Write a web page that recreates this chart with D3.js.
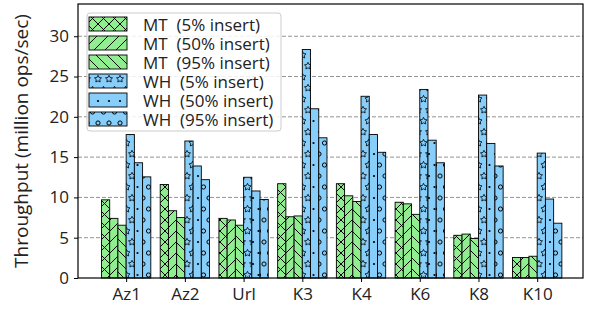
<!DOCTYPE html>
<html>
<head>
<meta charset="utf-8">
<script src="https://cdn.jsdelivr.net/npm/d3@7"></script>
<style>
  html, body { margin: 0; padding: 0; background: #fff; }
  svg { display: block; font-family: "Open Sans", sans-serif; }
</style>
</head>
<body>
<div class="main__area"></div>
<script>
const categories=["Az1", "Az2", "Url", "K3", "K4", "K6", "K8", "K10"];
const mt5 =[9.7, 11.6, 7.4, 11.7, 11.7, 9.4, 5.3, 2.55];
const mt50=[7.4, 8.35, 7.2, 7.6, 10.2, 9.2, 5.45, 2.55];
const mt95=[6.55, 7.5, 6.55, 7.7, 9.5, 7.9, 4.9, 2.7];
const wh5 =[17.8, 17.0, 12.5, 28.35, 22.55, 23.4, 22.7, 15.5];
const wh50=[14.3, 13.9, 10.8, 21.0, 17.8, 17.1, 16.7, 9.8];
const wh95=[12.55, 12.2, 9.75, 17.4, 15.6, 14.3, 13.9, 6.8];
const seriesNames=["MT  (5% insert)", "MT  (50% insert)", "MT  (95% insert)",
                   "WH  (5% insert)", "WH  (50% insert)", "WH  (95% insert)"];
const yTicks=[0, 5, 10, 15, 20, 25, 30];

const allSeries=[mt5, mt50, mt95, wh5, wh50, wh95];
const green="#90ee90";
const blue="#87cefa";
const hatchKinds=["x", "/", "\\", "*", ".", "o"];
const fills=[green, green, green, blue, blue, blue];

const width=589;
const height=312;
const plotL=78, plotR=583, plotT=4, plotB=278;
const barW=0.14;

const svgTag=d3.select(".main__area").append("svg")
    .attr("width", width)
    .attr("height", height);

const x=d3.scaleLinear().domain([-0.82, 7.78]).range([plotL, plotR]);
const y=d3.scaleLinear().domain([0, 34]).range([plotB, plotT]);

// hatch patterns
const defs=svgTag.append("defs");
const P=11;
function starPath(cx, cy, r) {
    let d="";
    for (let i=0; i<10; i++) {
        const rr=i%2===0 ? r : r*0.5;
        const a=-Math.PI/2 + i*Math.PI/5;
        d+=(i===0 ? "M" : "L")+(cx+rr*Math.cos(a)).toFixed(2)+","+(cy+rr*Math.sin(a)).toFixed(2);
    }
    return d+"Z";
}
hatchKinds.forEach((kind, key)=>{
    const isShape=(kind==="*" || kind==="." || kind==="o");
    const pat=defs.append("pattern")
        .attr("id", `hatch${key}`)
        .attr("patternUnits", "userSpaceOnUse")
        .attr("width", P).attr("height", isShape ? P*2 : P);
    pat.append("rect").attr("width", P).attr("height", isShape ? P*2 : P).attr("fill", fills[key]);
    const g=pat.append("g").attr("stroke", "#000").attr("stroke-width", 1).attr("fill", "none");
    if (kind==="x") {
        g.append("path").attr("d", `M-1,-1L${P+1},${P+1}M${P+1},-1L-1,${P+1}`);
    } else if (kind==="/") {
        g.append("path").attr("d", `M-1,${P+1}L${P+1},-1M-1,1L1,-1M${P-1},${P+1}L${P+1},${P-1}`);
    } else if (kind==="\\") {
        g.append("path").attr("d", `M-1,-1L${P+1},${P+1}M-1,${P-1}L1,${P+1}M${P-1},-1L${P+1},1`);
    } else {
        const spots=[[0,0],[P,0],[0,2*P],[P,2*P],[P/2,P]];
        spots.forEach(([cx, cy])=>{
            if (kind==="*") {
                g.append("path").attr("d", starPath(cx, cy, 3.7)).attr("stroke-width", 0.8);
            } else if (kind==="o") {
                g.append("circle").attr("cx", cx).attr("cy", cy).attr("r", 2.1);
            } else {
                g.append("circle").attr("cx", cx).attr("cy", cy).attr("r", 1.1)
                    .attr("fill", "#000").attr("stroke", "none");
            }
        });
    }
});

// grid
svgTag.append("g")
    .selectAll("line")
    .data(yTicks.filter(t=>t>0))
    .join("line")
    .attr("x1", plotL).attr("x2", plotR)
    .attr("y1", d=>y(d)).attr("y2", d=>y(d))
    .attr("stroke", "#888").attr("stroke-width", 0.9)
    .attr("stroke-dasharray", "4,2");

// bars
allSeries.forEach((array, key)=>{
    svgTag.append("g")
        .selectAll("rect")
        .data(array)
        .join("rect")
        .attr("x", (d, i)=>x(i + (key-3)*barW))
        .attr("y", d=>y(d))
        .attr("width", x(barW)-x(0))
        .attr("height", d=>y(0)-y(d))
        .attr("fill", `url(#hatch${key})`)
        .attr("stroke", "#000")
        .attr("stroke-width", 0.9);
});

// axes
const yAxis=svgTag.append("g")
    .attr("transform", `translate(${plotL},0)`)
    .call(d3.axisLeft(y).tickValues(yTicks).tickSize(4).tickPadding(5));
const xAxis=svgTag.append("g")
    .attr("transform", `translate(0,${plotB})`)
    .call(d3.axisBottom(x).tickValues(d3.range(categories.length))
        .tickFormat(i=>categories[i]).tickSize(4).tickPadding(6));
[yAxis, xAxis].forEach(ax=>{
    ax.select(".domain").remove();
    ax.selectAll("line").attr("stroke", "#000");
    ax.selectAll("text").attr("fill", "#222").attr("font-size", 17)
        .attr("font-family", "Open Sans, sans-serif");
});

svgTag.append("rect")
    .attr("x", plotL).attr("y", plotT)
    .attr("width", plotR-plotL).attr("height", plotB-plotT)
    .attr("fill", "none").attr("stroke", "#000").attr("stroke-width", 1.2);

svgTag.append("text")
    .attr("transform", `translate(21,${(plotT+plotB)/2}) rotate(-90)`)
    .attr("text-anchor", "middle")
    .attr("dominant-baseline", "central")
    .attr("font-size", 19).attr("fill", "#222")
    .text("Throughput (million ops/sec)");

// legend
const legendG=svgTag.append("g").attr("transform", "translate(87,13)");
legendG.append("rect")
    .attr("width", 194).attr("height", 118).attr("rx", 3)
    .attr("fill", "#fff").attr("fill-opacity", 0.85)
    .attr("stroke", "#ccc").attr("stroke-width", 1);
seriesNames.forEach((name, key)=>{
    const cy=11 + key*19;
    legendG.append("rect")
        .attr("x", 2).attr("y", cy-7)
        .attr("width", 38).attr("height", 14)
        .attr("fill", `url(#hatch${key})`)
        .attr("stroke", "#000").attr("stroke-width", 0.9);
    legendG.append("text")
        .attr("x", 56).attr("y", cy)
        .attr("dominant-baseline", "central")
        .attr("font-size", 17).attr("fill", "#222")
        .style("white-space", "pre")
        .text(name);
});
</script>
</body>
</html>
